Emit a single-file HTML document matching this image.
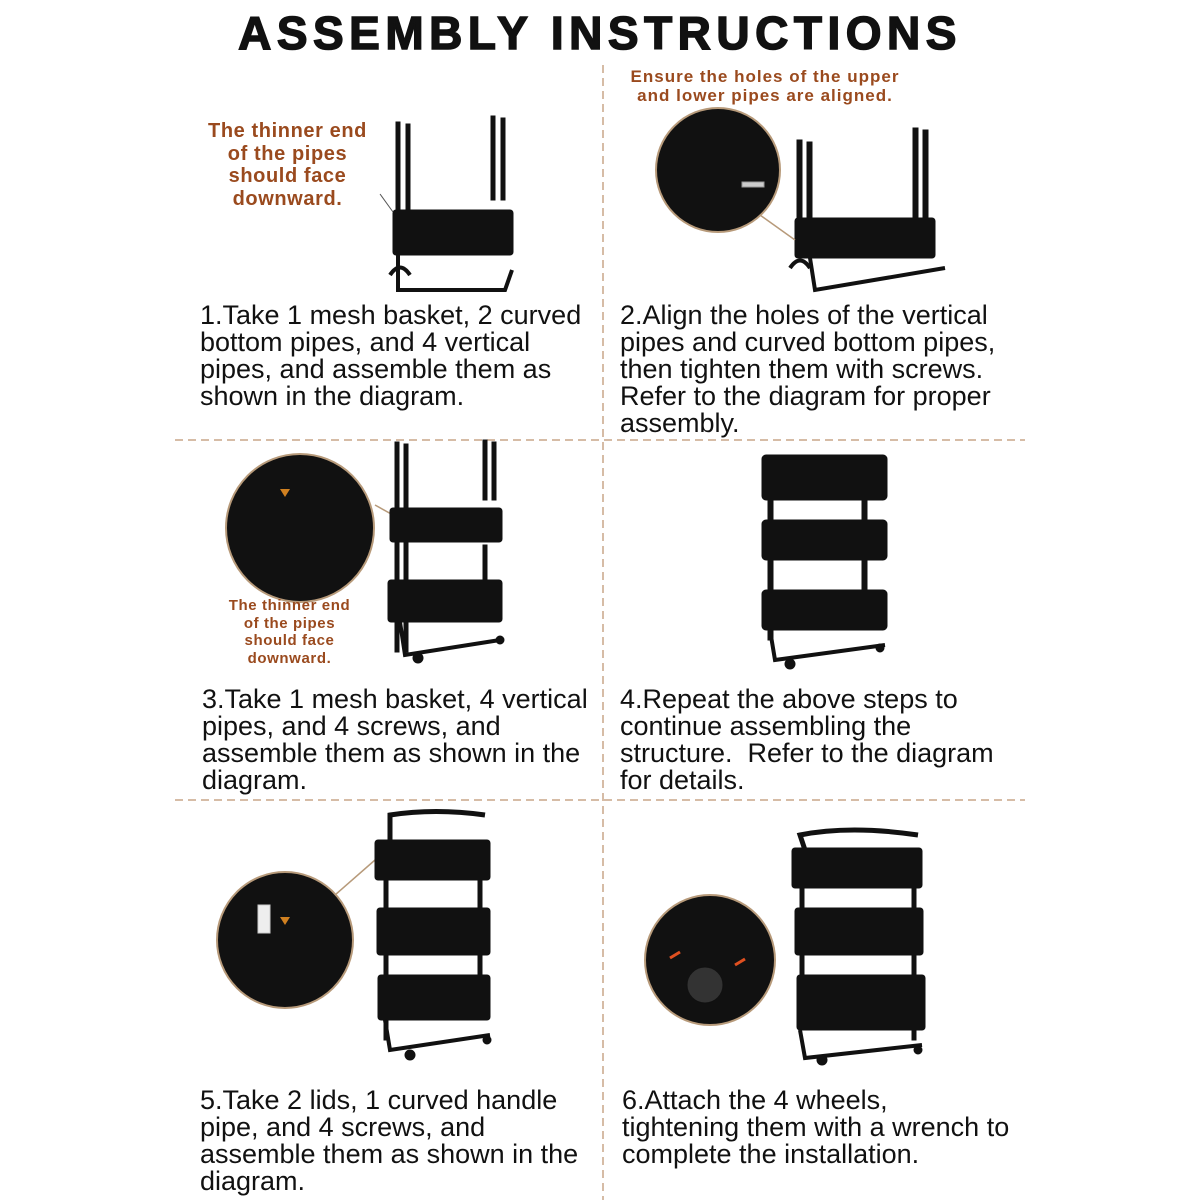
<!DOCTYPE html>
<html><head><style>
body{margin:0;width:1200px;height:1200px;background:#fff;position:relative;overflow:hidden;font-family:"Liberation Sans",sans-serif}
.t{position:absolute;font-size:27px;line-height:27px;color:#111;white-space:nowrap}
.o{position:absolute;color:#9a4a1e;font-weight:bold;text-align:center;white-space:nowrap;letter-spacing:0.6px}
h1{position:absolute;top:6px;left:0;width:1200px;text-align:center;margin:0;font-size:46px;font-weight:900;letter-spacing:5.5px;color:#111;-webkit-text-stroke:1.5px #111}
svg{position:absolute;left:0;top:0}
</style></head><body>
<h1>ASSEMBLY INSTRUCTIONS</h1>
<svg width="1200" height="1200">
<g stroke="#c8a588" stroke-width="1.5" stroke-dasharray="8,5">
<line x1="603" y1="65" x2="603" y2="1200"/>
<line x1="175" y1="440" x2="1025" y2="440"/>
<line x1="175" y1="800" x2="1025" y2="800"/>
</g>
<g fill="#111" stroke="#111">
<rect x="396" y="122" width="4" height="88"/><rect x="406" y="124" width="4" height="88"/>
<rect x="491" y="116" width="4" height="84"/><rect x="501" y="118" width="4" height="82"/>
<rect x="393" y="210" width="120" height="45" rx="3"/>
<path d="M398 255 L398 290 L505 290 L512 270" fill="none" stroke-width="4"/>
<path d="M390 275 q10 -15 20 0" fill="none" stroke-width="4"/>
<line x1="380" y1="194" x2="393" y2="212" stroke="#555" stroke-width="1"/>
<circle cx="718" cy="170" r="62" stroke="#b79a7a" stroke-width="2"/>
<rect x="742" y="182" width="22" height="5" fill="#ccc" stroke="#999"/>
<rect x="797" y="140" width="5" height="110"/><rect x="807" y="142" width="5" height="110"/>
<rect x="913" y="128" width="5" height="98"/><rect x="923" y="130" width="5" height="96"/>
<rect x="795" y="218" width="140" height="40" rx="3"/>
<path d="M810 258 L815 290 L945 268" fill="none" stroke-width="4"/>
<path d="M790 268 q10 -15 20 0" fill="none" stroke-width="4"/>
<line x1="760" y1="215" x2="795" y2="240" stroke="#b79a7a" stroke-width="1.5"/>
<circle cx="300" cy="528" r="74" stroke="#b79a7a" stroke-width="2"/>
<line x1="375" y1="505" x2="393" y2="515" stroke="#b79a7a" stroke-width="1.5"/>
<rect x="395" y="442" width="4" height="210"/><rect x="404" y="444" width="4" height="208"/>
<rect x="483" y="440" width="4" height="60"/><rect x="492" y="442" width="4" height="58"/>
<rect x="483" y="545" width="4" height="60"/>
<rect x="390" y="508" width="112" height="34" rx="3"/>
<rect x="388" y="580" width="114" height="42" rx="3"/>
<path d="M400 622 L405 655 L500 640" fill="none" stroke-width="4"/>
<circle cx="418" cy="658" r="5"/><circle cx="500" cy="640" r="4"/>
<rect x="762" y="455" width="125" height="45" rx="4"/>
<rect x="762" y="520" width="125" height="40" rx="4"/>
<rect x="762" y="590" width="125" height="40" rx="4"/>
<rect x="768" y="480" width="5" height="160"/><rect x="862" y="480" width="5" height="140"/>
<path d="M770 630 L775 660 L885 645" fill="none" stroke-width="4"/>
<circle cx="790" cy="664" r="5"/><circle cx="880" cy="648" r="4"/>
<circle cx="285" cy="940" r="68" stroke="#b79a7a" stroke-width="2"/>
<line x1="335" y1="895" x2="375" y2="860" stroke="#b79a7a" stroke-width="1.5"/>
<rect x="258" y="905" width="12" height="28" fill="#eee" stroke="#ccc"/>
<path d="M390 840 L390 815 Q435 808 485 815" fill="none" stroke-width="5"/>
<rect x="375" y="840" width="115" height="40" rx="3"/>
<rect x="377" y="908" width="113" height="47" rx="3"/>
<rect x="378" y="975" width="112" height="45" rx="3"/>
<rect x="384" y="870" width="4" height="170"/><rect x="478" y="870" width="4" height="150"/>
<path d="M385 1020 L390 1050 L490 1035" fill="none" stroke-width="4"/>
<circle cx="410" cy="1055" r="5"/><circle cx="487" cy="1040" r="4"/>
<circle cx="710" cy="960" r="65" stroke="#b79a7a" stroke-width="2"/>
<circle cx="705" cy="985" r="18" fill="#333"/>
<path d="M805 850 L800 835 Q850 825 918 835" fill="none" stroke-width="5"/>
<rect x="792" y="848" width="130" height="40" rx="3"/>
<rect x="795" y="908" width="128" height="47" rx="3"/>
<rect x="797" y="975" width="128" height="55" rx="3"/>
<rect x="800" y="880" width="4" height="150"/><rect x="912" y="880" width="4" height="160"/>
<path d="M800 1030 L805 1058 L922 1045" fill="none" stroke-width="4"/>
<circle cx="822" cy="1060" r="5"/><circle cx="918" cy="1050" r="4"/>
</g>
<path d="M670 958 l10 -6 M735 965 l10 -6" stroke="#e05020" stroke-width="3"/>
<path d="M285 925 l-5 -8 h10z M285 497 l-5 -8 h10z" fill="#d08020"/>
</svg>
<div class="o" style="left:185px;top:120px;width:205px;font-size:20px;line-height:22.5px">The thinner end<br>of the pipes<br>should face<br>downward.</div>
<div class="o" style="left:605px;top:67px;width:320px;font-size:17px;line-height:19px;letter-spacing:1px">Ensure the holes of the upper<br>and lower pipes are aligned.</div>
<div class="o" style="left:207px;top:597px;width:165px;font-size:15px;line-height:17.5px">The thinner end<br>of the pipes<br>should face<br>downward.</div>
<div class="t" style="left:200px;top:302px">1.Take 1 mesh basket, 2 curved<br>bottom pipes, and 4 vertical<br>pipes, and assemble them as<br>shown in the diagram.</div>
<div class="t" style="left:620px;top:302px">2.Align the holes of the vertical<br>pipes and curved bottom pipes,<br>then tighten them with screws.<br>Refer to the diagram for proper<br>assembly.</div>
<div class="t" style="left:202px;top:686px">3.Take 1 mesh basket, 4 vertical<br>pipes, and 4 screws, and<br>assemble them as shown in the<br>diagram.</div>
<div class="t" style="left:620px;top:686px">4.Repeat the above steps to<br>continue assembling the<br>structure.&nbsp; Refer to the diagram<br>for details.</div>
<div class="t" style="left:200px;top:1087px">5.Take 2 lids, 1 curved handle<br>pipe, and 4 screws, and<br>assemble them as shown in the<br>diagram.</div>
<div class="t" style="left:622px;top:1087px">6.Attach the 4 wheels,<br>tightening them with a wrench to<br>complete the installation.</div>
</body></html>
